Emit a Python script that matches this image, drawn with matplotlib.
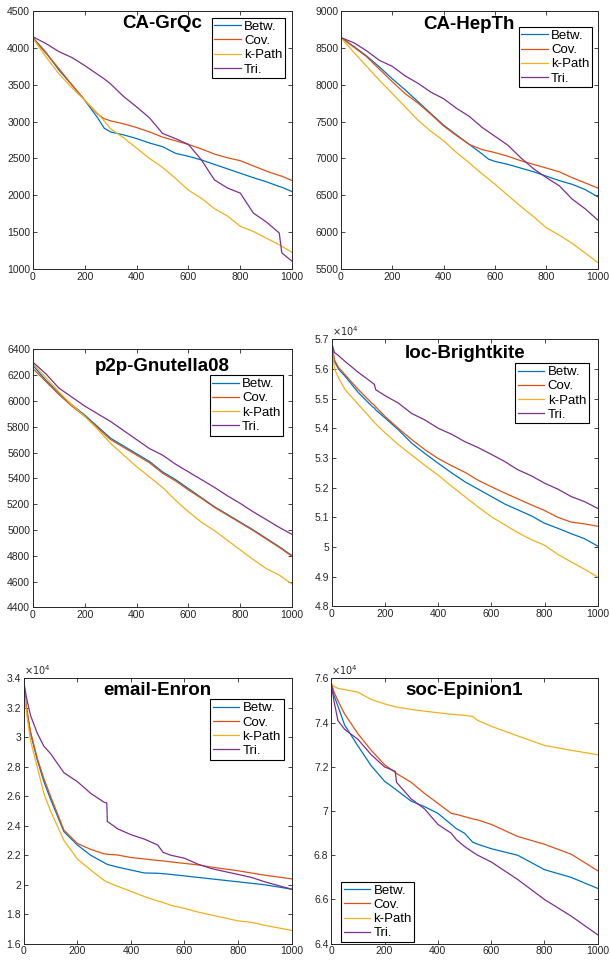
import numpy as np
import matplotlib
matplotlib.use("Agg")
import matplotlib.pyplot as plt
from matplotlib.ticker import FuncFormatter

plt.rcParams['font.family'] = ['Liberation Sans', 'DejaVu Sans']

labels = ['Betw.', 'Cov.', 'k-Path', 'Tri.']
colors = ['#0072BD', '#D95319', '#EDB120', '#7E2F8E']

# CA-GrQc
grqc_x = [0, 50, 100, 150, 200, 250, 275, 300, 350, 400, 450, 500, 550, 600, 650, 700, 750, 800, 850, 900, 950, 960, 1000]
grqc_betw = [4140, 3940, 3700, 3500, 3290, 3050, 2910, 2860, 2820, 2770, 2710, 2660, 2570, 2530, 2480, 2420, 2360, 2300, 2240, 2185, 2120, 2110, 2050]
grqc_cov = [4130, 3930, 3720, 3500, 3290, 3100, 3040, 3010, 2970, 2920, 2860, 2790, 2740, 2690, 2630, 2560, 2510, 2470, 2400, 2330, 2270, 2260, 2200]
grqc_kpath = [4130, 3880, 3650, 3460, 3290, 3110, 3010, 2900, 2780, 2640, 2500, 2380, 2230, 2070, 1960, 1820, 1720, 1580, 1510, 1420, 1330, 1310, 1225]
grqc_tri = [4150, 4060, 3950, 3870, 3760, 3640, 3580, 3510, 3340, 3200, 3050, 2840, 2770, 2690, 2480, 2210, 2100, 2030, 1760, 1640, 1490, 1220, 1105]

# CA-HepTh
hepth_x = [0, 50, 100, 150, 200, 250, 300, 350, 400, 450, 500, 550, 575, 600, 650, 700, 750, 800, 850, 900, 950, 1000]
hepth_betw = [8640, 8520, 8390, 8240, 8080, 7930, 7770, 7610, 7450, 7320, 7190, 7060, 6990, 6960, 6920, 6870, 6820, 6760, 6700, 6650, 6580, 6480]
hepth_cov = [8640, 8510, 8380, 8210, 8040, 7880, 7750, 7600, 7440, 7310, 7190, 7120, 7100, 7080, 7030, 6970, 6920, 6870, 6820, 6740, 6670, 6600]
hepth_kpath = [8640, 8440, 8250, 8060, 7880, 7700, 7520, 7370, 7240, 7080, 6940, 6790, 6720, 6650, 6500, 6350, 6210, 6060, 5960, 5850, 5720, 5590]
hepth_tri = [8640, 8570, 8460, 8330, 8250, 8120, 8020, 7900, 7810, 7680, 7570, 7420, 7360, 7300, 7180, 7010, 6860, 6740, 6630, 6450, 6320, 6165]

# p2p-Gnutella08
gnu_x = [0, 50, 100, 150, 200, 250, 300, 350, 400, 450, 500, 550, 600, 650, 700, 750, 800, 850, 900, 950, 1000]
gnu_betw = [6275, 6160, 6060, 5970, 5890, 5800, 5710, 5650, 5590, 5530, 5450, 5390, 5320, 5250, 5180, 5120, 5060, 5000, 4935, 4870, 4800]
gnu_cov = [6250, 6150, 6050, 5960, 5880, 5790, 5700, 5640, 5580, 5520, 5440, 5380, 5310, 5245, 5175, 5115, 5055, 4995, 4930, 4865, 4795]
gnu_kpath = [6290, 6180, 6070, 5970, 5880, 5780, 5670, 5580, 5490, 5410, 5330, 5230, 5140, 5060, 4995, 4920, 4845, 4770, 4700, 4650, 4580]
gnu_tri = [6300, 6210, 6100, 6030, 5960, 5900, 5840, 5770, 5700, 5630, 5580, 5510, 5450, 5390, 5330, 5265, 5205, 5140, 5080, 5020, 4965]

# loc-Brightkite
bk_x = [0, 10, 25, 50, 100, 150, 160, 165, 200, 250, 300, 350, 400, 450, 500, 550, 600, 650, 700, 750, 800, 850, 900, 950, 1000]
bk_betw = [56800, 56250, 56000, 55750, 55200, 54750, 54680, 54620, 54350, 53950, 53500, 53150, 52820, 52500, 52200, 51950, 51700, 51450, 51250, 51050, 50800, 50630, 50450, 50280, 50030]
bk_cov = [56800, 56300, 56050, 55800, 55300, 54850, 54780, 54720, 54400, 54000, 53620, 53280, 52980, 52740, 52520, 52250, 52030, 51820, 51620, 51420, 51230, 51000, 50840, 50780, 50700]
bk_kpath = [56800, 56000, 55700, 55300, 54800, 54300, 54200, 54150, 53850, 53450, 53100, 52750, 52420, 52050, 51700, 51350, 51020, 50750, 50480, 50250, 50060, 49750, 49500, 49250, 48990]
bk_tri = [56860, 56550, 56450, 56250, 55880, 55550, 55480, 55300, 55100, 54850, 54500, 54280, 54000, 53800, 53550, 53350, 53120, 52880, 52600, 52400, 52150, 51950, 51700, 51530, 51300]

# email-Enron
enron_x = [0, 10, 25, 50, 75, 100, 150, 200, 250, 300, 310, 312, 350, 400, 450, 500, 520, 550, 600, 650, 700, 800, 850, 900, 1000]
enron_betw = [33500, 32000, 30300, 28500, 27000, 25800, 23600, 22700, 22000, 21500, 21400, 21380, 21200, 21000, 20800, 20780, 20750, 20700, 20600, 20500, 20400, 20200, 20100, 20000, 19700]
enron_cov = [33500, 32000, 30400, 28600, 27200, 26000, 23700, 22800, 22400, 22100, 22080, 22070, 22020, 21850, 21750, 21650, 21620, 21550, 21450, 21350, 21200, 20950, 20800, 20650, 20400]
enron_kpath = [33500, 31700, 29800, 28000, 26200, 25000, 23000, 21750, 21000, 20300, 20200, 20180, 19900, 19550, 19200, 18900, 18800, 18600, 18400, 18150, 17950, 17550, 17450, 17250, 16900]
enron_tri = [33800, 32700, 31500, 30300, 29400, 28900, 27600, 27000, 26200, 25600, 25550, 24300, 23800, 23400, 23100, 22700, 22200, 22000, 21800, 21400, 21100, 20700, 20500, 20200, 19700]

# soc-Epinion1
epi_x = [0, 10, 25, 50, 100, 150, 200, 240, 245, 300, 350, 400, 450, 470, 500, 530, 550, 600, 700, 800, 900, 1000]
epi_betw = [75800, 75250, 74750, 73900, 72950, 72050, 71350, 71000, 70950, 70450, 70200, 69900, 69400, 69200, 69000, 68600, 68500, 68300, 68000, 67350, 67000, 66500]
epi_cov = [75800, 75400, 75000, 74400, 73500, 72750, 72100, 71750, 71700, 71300, 70800, 70350, 69900, 69850, 69750, 69650, 69600, 69400, 68850, 68500, 68050, 67300]
epi_kpath = [75750, 75650, 75550, 75500, 75380, 75050, 74850, 74720, 74710, 74600, 74520, 74450, 74380, 74360, 74330, 74280, 74100, 73840, 73400, 72970, 72750, 72550]
epi_tri = [75800, 75000, 74100, 73700, 73250, 72550, 72000, 71800, 71300, 70550, 70100, 69400, 69000, 68700, 68400, 68150, 68000, 67700, 66900, 66000, 65250, 64400]

panels = [
    ('CA-GrQc', grqc_x, [grqc_betw, grqc_cov, grqc_kpath, grqc_tri], (1000, 4500), np.arange(1000, 4501, 500), False),
    ('CA-HepTh', hepth_x, [hepth_betw, hepth_cov, hepth_kpath, hepth_tri], (5500, 9000), np.arange(5500, 9001, 500), False),
    ('p2p-Gnutella08', gnu_x, [gnu_betw, gnu_cov, gnu_kpath, gnu_tri], (4400, 6400), np.arange(4400, 6401, 200), False),
    ('loc-Brightkite', bk_x, [bk_betw, bk_cov, bk_kpath, bk_tri], (48000, 57000), np.arange(48000, 57001, 1000), True),
    ('email-Enron', enron_x, [enron_betw, enron_cov, enron_kpath, enron_tri], (16000, 34000), np.arange(16000, 34001, 2000), True),
    ('soc-Epinion1', epi_x, [epi_betw, epi_cov, epi_kpath, epi_tri], (64000, 76000), np.arange(64000, 76001, 2000), True),
]

# axes boxes in figure fractions (left, bottom, width, height)
boxes = [
    [0.054, 0.720, 0.425, 0.2685],
    [0.559, 0.720, 0.421, 0.2685],
    [0.054, 0.368, 0.425, 0.2685],
    [0.544, 0.369, 0.436, 0.278],
    [0.039, 0.018, 0.439, 0.276],
    [0.543, 0.018, 0.437, 0.276],
]
# legend placement (loc, anchor in axes coords) and title top
legend_pos = [
    ('upper right', (0.973, 0.973)),
    ('upper right', (0.977, 0.938)),
    ('upper right', (0.965, 0.899)),
    ('upper right', (0.966, 0.910)),
    ('upper right', (0.970, 0.921)),
    ('lower left', (0.037, 0.006)),
]
title_y = [0.985, 0.982, 0.968, 0.978, 0.985, 0.985]

fig = plt.figure(figsize=(6.1, 9.61), dpi=100)
grey = '#262626'

for (name, xs, series, ylim, yt, sci), box, (loc, anchor), ty in zip(panels, boxes, legend_pos, title_y):
    ax = fig.add_axes(box)
    for ys, lab, c in zip(series, labels, colors):
        ax.plot(xs, ys, color=c, lw=0.9, label=lab)
    ax.set_xlim(0, 1000)
    ax.set_ylim(*ylim)
    ax.set_xticks(np.arange(0, 1001, 200))
    ax.set_yticks(yt)
    if sci:
        ax.yaxis.set_major_formatter(FuncFormatter(lambda v, p: '%g' % round(v / 1e4, 2)))
        ax.text(0.0, 1.004, r'$\times10^4$', transform=ax.transAxes, fontsize=7,
                color=grey, ha='left', va='bottom')
    ax.tick_params(direction='in', length=3, width=0.6, labelsize=7.5, colors=grey,
                   top=True, right=True, pad=2)
    for s in ax.spines.values():
        s.set_color(grey)
        s.set_linewidth(0.7)
    ax.text(0.5, ty, name, transform=ax.transAxes, ha='center', va='top',
            fontsize=13.5, fontweight='bold')
    leg = ax.legend(loc=loc, bbox_to_anchor=anchor, fontsize=9.5, fancybox=False,
                    framealpha=1, edgecolor='black', borderpad=0.2, labelspacing=0.15,
                    handlelength=2.0, handletextpad=0.25, borderaxespad=0.0)
    leg.get_frame().set_linewidth(0.8)

fig.savefig('out.png', dpi=100)
